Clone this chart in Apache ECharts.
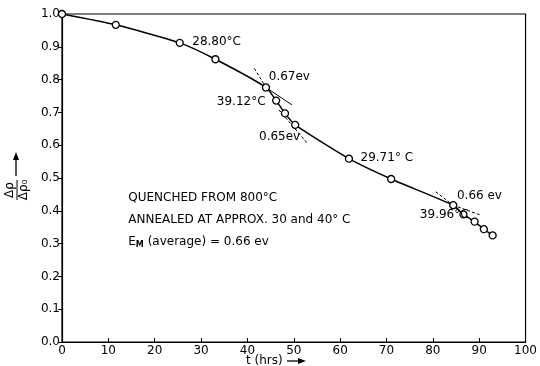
<!DOCTYPE html>
<html>
<head>
<meta charset="utf-8">
<script src="https://cdn.jsdelivr.net/npm/echarts@6/dist/echarts.min.js"></script>
<style>
  html, body { margin: 0; padding: 0; background: #fff; }
  #chart { width: 540px; height: 366px; }
</style>
</head>
<body>
<div id="chart"></div>
<script>
// Annealing time (hrs) and normalised resistivity increment
const hours = [0, 11.6, 25.4, 33.1, 44.0, 46.2, 48.1, 50.3, 61.9, 71.0, 84.4, 86.6, 89.0, 91.0, 92.9];
const ratio = [1.0, 0.967, 0.912, 0.862, 0.776, 0.736, 0.697, 0.662, 0.559, 0.497, 0.417, 0.389, 0.367, 0.344, 0.325];

// Tangent segments at the temperature changes
const tangent1a = [[41.5, 0.834], [44.0, 0.776]];
const tangent1b = [[44.0, 0.776], [49.6, 0.723]];
const tangent2  = [[46.8, 0.708], [53.1, 0.603]];
const tangent3a = [[80.6, 0.458], [84.4, 0.417]];
const tangent3b = [[84.4, 0.417], [90.3, 0.387]];

// Notes written on the plot: [t, value, text]
const notes = [
  [28.1, 0.916, '28.80°C'],
  [44.6, 0.809, '0.67ev'],
  [33.4, 0.733, '39.12°C'],
  [42.5, 0.626, '0.65ev'],
  [64.4, 0.560, '29.71° C'],
  [85.2, 0.445, '0.66 ev'],
  [77.2, 0.389, '39.96°C'],
  [14.3, 0.438, 'QUENCHED FROM 800°C'],
  [14.3, 0.372, 'ANNEALED AT APPROX. 30 and 40° C'],
  [14.3, 0.306, '{e|E}{m|M} (average) = 0.66 ev']
];

const xTicks = { min: 0, max: 100, interval: 10 };
const yTicks = { min: 0, max: 1, interval: 0.1 };

const FONT = 'DejaVu Sans';
const INK = '#000';

const chart = echarts.init(document.getElementById('chart'), null, { renderer: 'canvas' });

function seg(data, dashed) {
  return {
    type: 'line', data: data, symbol: 'none', silent: true, z: 1,
    lineStyle: { color: INK, width: 1, type: dashed ? [3, 2] : 'solid' }
  };
}

chart.setOption({
  animation: false,
  backgroundColor: '#fff',
  grid: { left: 62, right: 5, top: 14, bottom: 24, show: true, borderColor: INK, borderWidth: 1.2, backgroundColor: 'transparent' },
  xAxis: {
    type: 'value', min: xTicks.min, max: xTicks.max, interval: xTicks.interval,
    axisLine: { lineStyle: { color: INK, width: 1.2 } },
    axisTick: { inside: true, length: 4, lineStyle: { color: INK } },
    axisLabel: { color: INK, fontFamily: FONT, fontSize: 12, margin: 3 },
    splitLine: { show: false }
  },
  yAxis: {
    type: 'value', min: yTicks.min, max: yTicks.max, interval: yTicks.interval,
    axisLine: { show: true, lineStyle: { color: INK, width: 1.2 } },
    axisTick: { show: true, inside: false, length: 4, lineStyle: { color: INK } },
    axisLabel: { color: INK, fontFamily: FONT, fontSize: 12, margin: 2, formatter: v => v.toFixed(1) },
    splitLine: { show: false }
  },
  series: [
    {
      type: 'line', z: 3,
      data: hours.map((t, i) => [t, ratio[i]]),
      smooth: 0.2, clip: false,
      symbol: 'circle', symbolSize: 7,
      itemStyle: { color: '#fff', borderColor: INK, borderWidth: 1.3 },
      lineStyle: { color: INK, width: 1.5 }
    },
    seg(tangent1a, true),
    seg(tangent1b, false),
    seg(tangent2, true),
    seg(tangent3a, true),
    seg(tangent3b, true),
    {
      type: 'scatter', silent: true, symbolSize: 0, z: 4,
      data: notes.map(n => ({ value: [n[0], n[1]], name: n[2] })),
      label: {
        show: true, position: 'right', distance: 0,
        formatter: p => p.name,
        color: INK, fontFamily: FONT, fontSize: 12, textBorderWidth: 0, opacity: 1,
        rich: {
          e: { color: INK, fontFamily: FONT, fontSize: 12 },
          m: { color: INK, fontFamily: FONT, fontSize: 8, fontWeight: 'bold', verticalAlign: 'bottom', padding: [6, 0, 0, 0] }
        }
      }
    }
  ],
  graphic: [
    // rotated fraction Δρ / Δρ₀ for the vertical axis
    {
      type: 'group', x: 17, y: 190, rotation: Math.PI / 2,
      children: [
        { type: 'text', x: 0, y: -7, style: { text: 'Δρ', font: '12px ' + FONT, fill: INK, textAlign: 'center', textVerticalAlign: 'middle' } },
        { type: 'line', shape: { x1: -10, y1: 0, x2: 10, y2: 0 }, style: { stroke: INK, lineWidth: 1 } },
        { type: 'text', x: 0, y: 7, style: { text: 'Δρ₀', font: '12px ' + FONT, fill: INK, textAlign: 'center', textVerticalAlign: 'middle' } }
      ]
    },
    { type: 'line', shape: { x1: 16, y1: 176, x2: 16, y2: 158 }, style: { stroke: INK, lineWidth: 1.3 } },
    { type: 'polygon', shape: { points: [[16, 152], [13, 160], [19, 160]] }, style: { fill: INK } },
    // horizontal axis title with arrow
    { type: 'text', x: 246, y: 361, style: { text: 't (hrs)', font: '12px ' + FONT, fill: INK, textVerticalAlign: 'middle' } },
    { type: 'line', shape: { x1: 287, y1: 361, x2: 299, y2: 361 }, style: { stroke: INK, lineWidth: 1.3 } },
    { type: 'polygon', shape: { points: [[306, 361], [298, 358], [298, 364]] }, style: { fill: INK } }
  ]
});
</script>
</body>
</html>
